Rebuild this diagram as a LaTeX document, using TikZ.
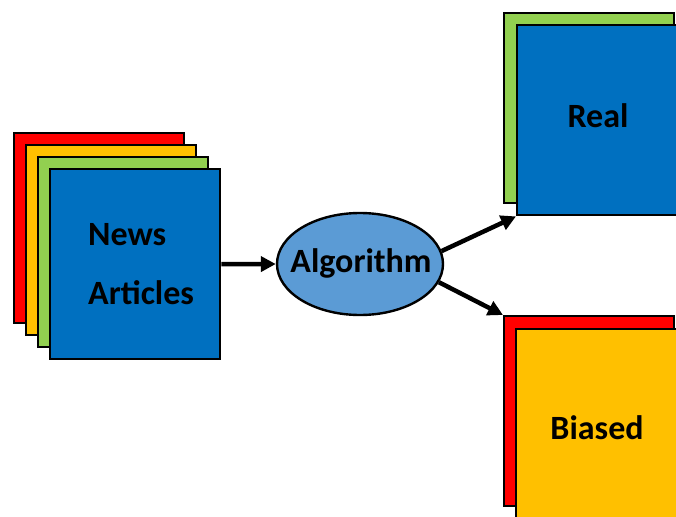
\documentclass[tikz,border=0pt]{standalone}
\usepackage{fontspec}
\setmainfont{Carlito}
\usepackage{tikz}
\usetikzlibrary{shapes.geometric}
\usetikzlibrary{arrows.meta}
\definecolor{sheetred}{HTML}{FF0000}
\definecolor{sheetorange}{HTML}{FFC000}
\definecolor{sheetgreen}{HTML}{92D050}
\definecolor{sheetblue}{HTML}{0070C0}
\definecolor{algoblue}{HTML}{5B9BD5}

\begin{document}
\begin{tikzpicture}[x=1pt,y=-1pt]
\useasboundingbox (0,0) rectangle (676,516);
\begin{scope}[every node/.style={rectangle,draw,line width=2.4pt,anchor=north west,
              minimum width=170pt,minimum height=190pt,inner sep=0pt}]
    \node[fill=sheetred] (news1) at (13,132) {};
    \node[fill=sheetorange] (news2) at (25,144) {};
    \node[fill=sheetgreen] (news3) at (37,156) {};
    \node[fill=sheetblue] (news4) at (49,168) {};
    \node[fill=sheetgreen] (real1) at (503,12) {};
    \node[fill=sheetblue] (real2) at (516,24) {};
    \node[fill=sheetred] (biased1) at (503,315) {};
    \node[fill=sheetorange] (biased2) at (515,328) {};
\end{scope}
\node[ellipse,draw,line width=2.4pt,fill=algoblue,minimum width=166pt,
      minimum height=102pt,inner sep=0pt] (algo) at (360,264) {};
\begin{scope}[every node/.style={font=\fontsize{34}{40}\selectfont\bfseries,inner sep=0pt}]
    \node[anchor=west] (news) at (88,235) {News};
    \node[anchor=west] (articles) at (88,293) {Articles};
    \node (real) at (598,116) {Real};
    \node (biased) at (597,428) {Biased};
    \node (algolabel) at (361,263) {Algorithm};
\end{scope}
\begin{scope}[>={Triangle[black,length=15pt,width=15pt]},
              flow_edge/.style={draw=black,line width=4.5pt}]
    \path [->] (news4.east) edge [flow_edge] (algo.west);
    \path [->] (algo.9) edge [flow_edge] (real2.south west);
    \path [->] (algo.-13) edge [flow_edge] (biased1.north west);
\end{scope}
\end{tikzpicture}
\end{document}
